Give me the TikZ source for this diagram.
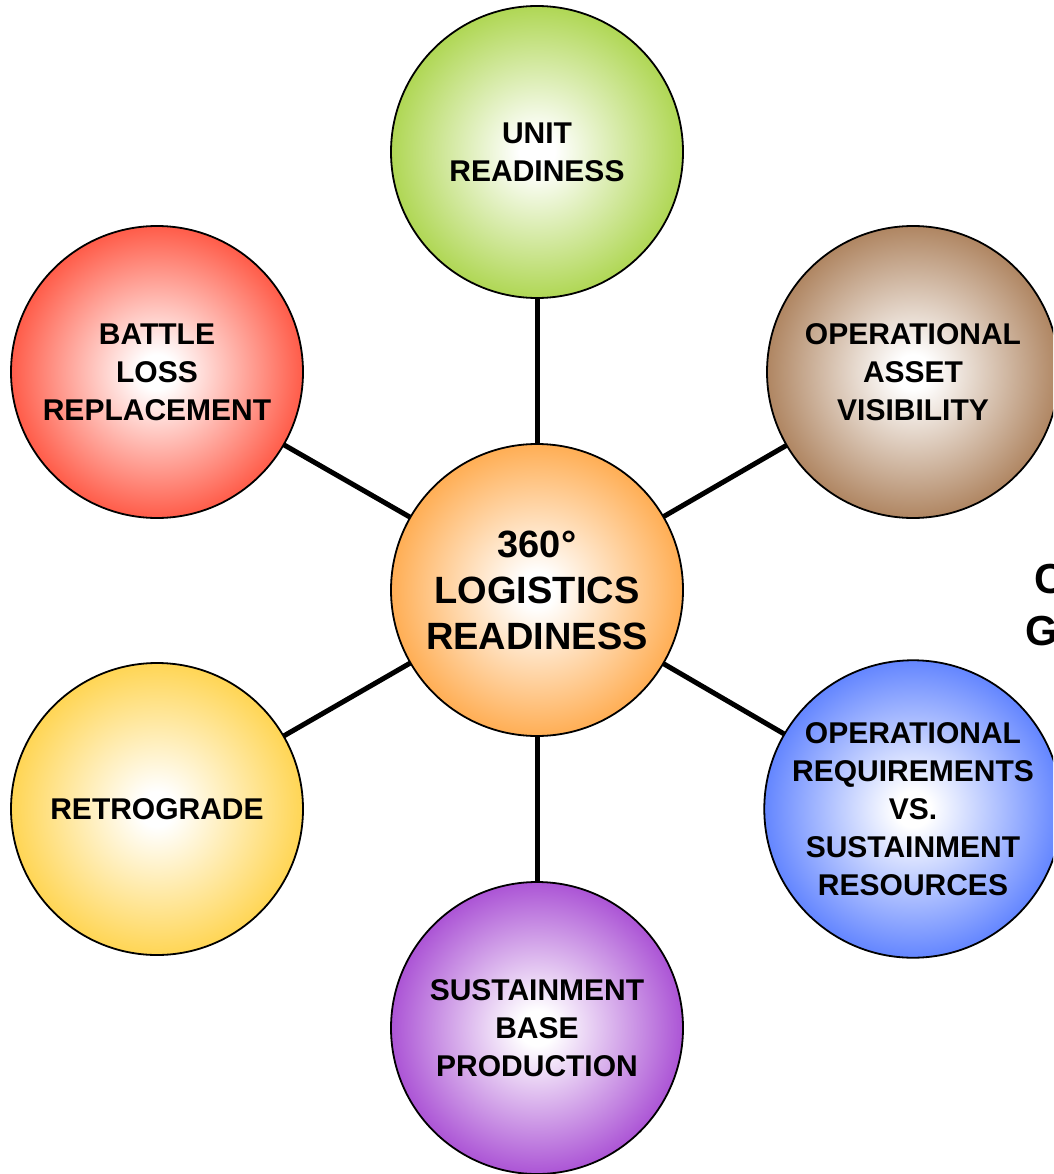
\documentclass[tikz,border=0pt]{standalone}
\usepackage{fontspec}
\setmainfont{Liberation Sans}
\usetikzlibrary{backgrounds}
\definecolor{cgreen}{RGB}{150,202,30}
\definecolor{cred}{RGB}{255,40,15}
\definecolor{cbrown}{RGB}{150,95,48}
\definecolor{corange}{RGB}{255,148,30}
\definecolor{cyellow}{RGB}{255,200,30}
\definecolor{cblue}{RGB}{50,95,255}
\definecolor{cpurple}{RGB}{145,30,200}
\pgfdeclareradialshading{ballgreen}{\pgfpoint{0bp}{0bp}}{color(0bp)=(white);color(3bp)=(white);color(32bp)=(cgreen);color(50bp)=(cgreen)}
\pgfdeclareradialshading{ballred}{\pgfpoint{0bp}{0bp}}{color(0bp)=(white);color(3bp)=(white);color(32bp)=(cred);color(50bp)=(cred)}
\pgfdeclareradialshading{ballbrown}{\pgfpoint{0bp}{0bp}}{color(0bp)=(white);color(3bp)=(white);color(32bp)=(cbrown);color(50bp)=(cbrown)}
\pgfdeclareradialshading{ballorange}{\pgfpoint{0bp}{0bp}}{color(0bp)=(white);color(3bp)=(white);color(32bp)=(corange);color(50bp)=(corange)}
\pgfdeclareradialshading{ballyellow}{\pgfpoint{0bp}{0bp}}{color(0bp)=(white);color(3bp)=(white);color(32bp)=(cyellow);color(50bp)=(cyellow)}
\pgfdeclareradialshading{ballblue}{\pgfpoint{0bp}{0bp}}{color(0bp)=(white);color(3bp)=(white);color(32bp)=(cblue);color(50bp)=(cblue)}
\pgfdeclareradialshading{ballpurple}{\pgfpoint{0bp}{0bp}}{color(0bp)=(white);color(3bp)=(white);color(32bp)=(cpurple);color(50bp)=(cpurple)}
\tikzset{
  ball/.style={circle, draw=black, line width=1.8pt, minimum size=292pt, inner sep=0pt, align=center,
    font=\fontsize{30}{38}\selectfont\bfseries},
  hub/.style={ball, font=\fontsize{38}{46}\selectfont\bfseries},
  spoke/.style={line width=5pt, black},
  edgetext/.style={anchor=base west, inner sep=0pt, font=\fontsize{42}{50}\selectfont\bfseries}
}
\begin{document}
\begin{tikzpicture}[x=1pt,y=-1pt]
\useasboundingbox (0,0) rectangle (1053,1174);
\clip (0,0) rectangle (1053,1174);
\node[hub, shading=ballorange] (c) at (537,590) {360°\\LOGISTICS\\READINESS};
\node[ball, shading=ballgreen] (t) at (537,152) {UNIT\\READINESS};
\node[ball, shading=ballred] (tl) at (157,372) {BATTLE\\LOSS\\REPLACEMENT};
\node[ball, shading=ballbrown] (tr) at (913,372) {OPERATIONAL\\ASSET\\VISIBILITY};
\node[ball, shading=ballyellow] (bl) at (157,809) {RETROGRADE};
\node[ball, shading=ballblue] (br) at (913,809) {OPERATIONAL\\REQUIREMENTS\\VS.\\SUSTAINMENT\\RESOURCES};
\node[ball, shading=ballpurple] (b) at (537,1028) {SUSTAINMENT\\BASE\\PRODUCTION};
\node[edgetext] (lc) at (1034,593) {C};
\node[edgetext] (lg) at (1025,645) {G};
\begin{scope}[on background layer]
\fill[white] (0,0) rectangle (1053,1174);
\draw[spoke] (c.center) -- (t.center);
\draw[spoke] (c.center) -- (tl.center);
\draw[spoke] (c.center) -- (tr.center);
\draw[spoke] (c.center) -- (bl.center);
\draw[spoke] (c.center) -- (br.center);
\draw[spoke] (c.center) -- (b.center);
\end{scope}
\end{tikzpicture}
\end{document}
